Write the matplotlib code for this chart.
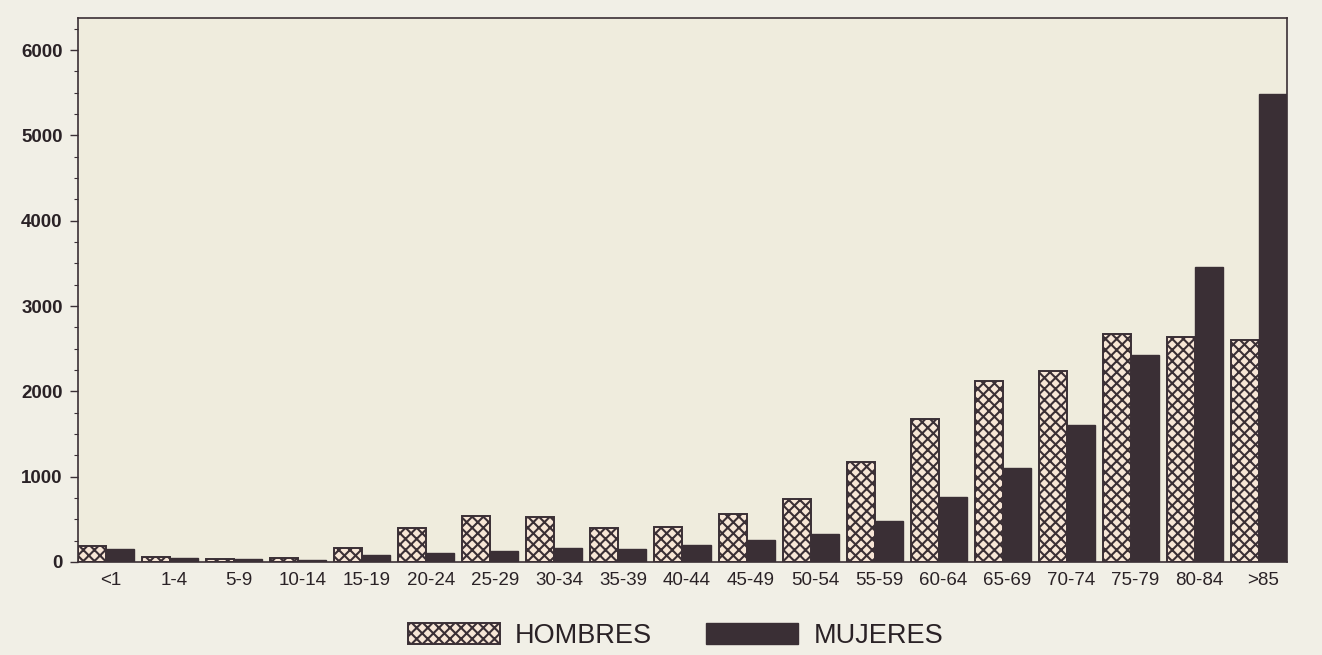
import matplotlib
matplotlib.use("Agg")
import matplotlib.pyplot as plt
import numpy as np
from matplotlib.patches import Patch
from matplotlib.ticker import MultipleLocator

categories = ["<1", "1-4", "5-9", "10-14", "15-19", "20-24", "25-29", "30-34", "35-39",
              "40-44", "45-49", "50-54", "55-59", "60-64", "65-69", "70-74", "75-79", "80-84", ">85"]
hombres = [189, 54, 32, 45, 167, 401, 536, 527, 401, 406, 565, 744, 1170, 1673, 2117, 2238, 2668, 2632, 2596]
mujeres = [153, 45, 32, 22, 77, 108, 131, 167, 153, 200, 260, 332, 484, 767, 1103, 1605, 2430, 3457, 5480]
yticks = [0, 1000, 2000, 3000, 4000, 5000, 6000]

plt.rcParams['font.family'] = ['Liberation Sans', 'DejaVu Sans']
plt.rcParams['hatch.linewidth'] = 1.5
plt.rcParams['hatch.color'] = '#3a2f33'

dark = '#3a2f35'
fig = plt.figure(figsize=(13.22, 6.55), dpi=100, facecolor='#f1efe6')
ax = fig.add_axes([0.059, 0.142, 0.9145, 0.8305])
ax.set_facecolor('#efecdd')

x = np.arange(len(categories))
w = 0.4375
ax.bar(x - w/2, hombres, width=w, facecolor='#f7e6d6', edgecolor=dark, hatch='xxx', linewidth=1.4)
ax.bar(x + w/2, mujeres, width=w, facecolor=dark, edgecolor=dark, linewidth=1.0)

ax.set_xlim(-w, len(categories) - 1 + w)
ax.set_ylim(0, 6375)
ax.set_xticks(x + 0.07)
ax.set_xticklabels(categories, fontsize=13.5, color='#2a2226')
ax.tick_params(axis='x', length=0, pad=7)
ax.set_yticks(yticks)
ax.set_yticklabels([str(t) for t in yticks], fontsize=13.5, fontweight='bold', color='#2a2226')
ax.yaxis.set_minor_locator(MultipleLocator(250))
ax.tick_params(axis='y', which='major', length=6, width=1, color=dark, pad=5)
ax.tick_params(axis='y', which='minor', length=3, width=0.8, color=dark)
for s in ax.spines.values():
    s.set_color(dark)
    s.set_linewidth(1.2)

handles = [Patch(facecolor='#f7e6d6', edgecolor=dark, hatch='xxx', linewidth=1.4, label='HOMBRES'),
           Patch(facecolor=dark, edgecolor=dark, label='MUJERES')]
fig.legend(handles=handles, loc='center', bbox_to_anchor=(0.511, 0.029), ncol=2, frameon=False,
           fontsize=19.5, handlelength=3.4, handleheight=0.8, columnspacing=2.0, handletextpad=0.55,
           labelcolor='#2a2226')

fig.savefig('out.png', dpi=100, facecolor=fig.get_facecolor())
